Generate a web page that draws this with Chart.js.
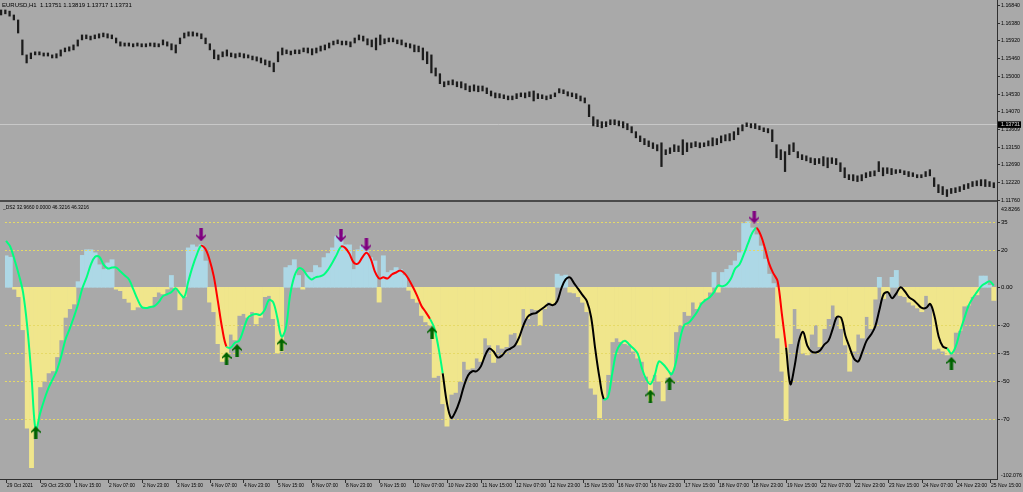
<!DOCTYPE html>
<html>
<head>
<meta charset="utf-8">
<script src="https://cdn.jsdelivr.net/npm/chart.js@4.4.1/dist/chart.umd.min.js"></script>
<style>
  body { margin: 0; background: #a9a9a9; width: 1023px; height: 492px; overflow: hidden; position: relative; }
  canvas { position: absolute; left: 0; }
  #graficoPreco { top: 0; }
  #graficoOsc { top: 200px; }
</style>
</head>
<body>
<canvas id="graficoPreco" width="1023" height="206"></canvas>
<canvas id="graficoOsc" width="1023" height="292"></canvas>
<script>
// cada ponto = 2 barras de H1
var STEP = 2;

var symbolName = 'EURUSD,H1';
var lastOHLC = [1.13751, 1.13819, 1.13717, 1.13731];
var indName = '_DS2';
var indValues = ['32.9660', '0.0000', '46.3216', '46.3216'];

var timeLabels = ['29 Oct 2021', '29 Oct 23:00', '1 Nov 15:00', '2 Nov 07:00', '2 Nov 23:00', '3 Nov 15:00',
  '4 Nov 07:00', '4 Nov 23:00', '5 Nov 15:00', '8 Nov 07:00', '8 Nov 23:00', '9 Nov 15:00', '10 Nov 07:00',
  '10 Nov 23:00', '11 Nov 15:00', '12 Nov 07:00', '12 Nov 23:00', '15 Nov 15:00', '16 Nov 07:00',
  '16 Nov 23:00', '17 Nov 15:00', '18 Nov 07:00', '18 Nov 23:00', '19 Nov 15:00', '22 Nov 07:00',
  '22 Nov 23:00', '23 Nov 15:00', '24 Nov 07:00', '24 Nov 23:00', '25 Nov 15:00'];
var barsPerLabel = 16;

var priceTicks = [1.16840, 1.16380, 1.15920, 1.15460, 1.15000, 1.14530, 1.14070, 1.13609, 1.13150, 1.12690, 1.12220, 1.11760];
var priceMin = 1.1176, priceMax = 1.1697;

var priceHigh = [
  1.1671,1.1671,1.1668,1.1658,1.1645,1.1593,1.1554,1.1559,1.1562,1.1562,
  1.1559,1.1559,1.1554,1.1557,1.1567,1.1572,1.1575,1.1580,1.1593,1.1606,
  1.1606,1.1603,1.1606,1.1609,1.1611,1.1609,1.1606,1.1598,1.1588,1.1585,
  1.1585,1.1583,1.1585,1.1583,1.1583,1.1585,1.1585,1.1583,1.1593,1.1588,
  1.1583,1.1580,1.1598,1.1611,1.1614,1.1614,1.1611,1.1609,1.1598,1.1583,
  1.1567,1.1554,1.1562,1.1567,1.1559,1.1557,1.1559,1.1557,1.1554,1.1551,
  1.1549,1.1546,1.1541,1.1538,1.1533,1.1562,1.1572,1.1567,1.1564,1.1567,
  1.1567,1.1572,1.1572,1.1570,1.1572,1.1577,1.1580,1.1585,1.1590,1.1593,
  1.1590,1.1590,1.1588,1.1598,1.1606,1.1603,1.1596,1.1593,1.1598,1.1606,
  1.1596,1.1598,1.1598,1.1593,1.1593,1.1585,1.1583,1.1580,1.1577,1.1572,
  1.1562,1.1554,1.1520,1.1505,1.1484,1.1486,1.1489,1.1484,1.1484,1.1479,
  1.1473,1.1476,1.1473,1.1473,1.1468,1.1460,1.1455,1.1453,1.1450,1.1447,
  1.1447,1.1453,1.1455,1.1455,1.1458,1.1460,1.1453,1.1450,1.1447,1.1450,
  1.1455,1.1466,1.1463,1.1458,1.1455,1.1453,1.1447,1.1442,1.1424,1.1393,
  1.1385,1.1380,1.1380,1.1385,1.1385,1.1382,1.1380,1.1375,1.1367,1.1354,
  1.1343,1.1336,1.1330,1.1325,1.1320,1.1325,1.1307,1.1312,1.1320,1.1317,
  1.1333,1.1325,1.1325,1.1328,1.1325,1.1325,1.1330,1.1338,1.1336,1.1343,
  1.1346,1.1349,1.1354,1.1364,1.1372,1.1377,1.1375,1.1375,1.1369,1.1364,
  1.1362,1.1359,1.1320,1.1307,1.1302,1.1320,1.1325,1.1302,1.1294,1.1291,
  1.1286,1.1284,1.1284,1.1289,1.1286,1.1286,1.1284,1.1273,1.1260,1.1242,
  1.1242,1.1239,1.1242,1.1247,1.1250,1.1252,1.1276,1.1260,1.1260,1.1258,
  1.1255,1.1255,1.1252,1.1250,1.1247,1.1242,1.1242,1.1250,1.1255,1.1234,
  1.1216,1.1211,1.1203,1.1206,1.1208,1.1211,1.1216,1.1219,1.1224,1.1226,
  1.1229,1.1229,1.1224,1.1221
];
var priceLow = [
  1.1658,1.1661,1.1655,1.1645,1.1611,1.1554,1.1533,1.1544,1.1554,1.1554,
  1.1551,1.1551,1.1546,1.1546,1.1551,1.1562,1.1564,1.1567,1.1577,1.1593,
  1.1596,1.1593,1.1596,1.1598,1.1601,1.1598,1.1596,1.1585,1.1577,1.1577,
  1.1577,1.1575,1.1577,1.1575,1.1575,1.1577,1.1575,1.1575,1.1580,1.1577,
  1.1567,1.1559,1.1583,1.1598,1.1603,1.1603,1.1603,1.1596,1.1583,1.1567,
  1.1544,1.1541,1.1549,1.1551,1.1549,1.1546,1.1549,1.1546,1.1546,1.1541,
  1.1538,1.1533,1.1528,1.1523,1.1510,1.1536,1.1554,1.1557,1.1554,1.1557,
  1.1557,1.1562,1.1559,1.1554,1.1559,1.1564,1.1567,1.1572,1.1580,1.1583,
  1.1580,1.1580,1.1575,1.1585,1.1593,1.1590,1.1580,1.1575,1.1567,1.1580,
  1.1583,1.1588,1.1588,1.1583,1.1580,1.1575,1.1572,1.1562,1.1562,1.1541,
  1.1531,1.1507,1.1499,1.1479,1.1471,1.1476,1.1476,1.1471,1.1468,1.1463,
  1.1458,1.1460,1.1458,1.1460,1.1453,1.1447,1.1442,1.1442,1.1440,1.1437,
  1.1437,1.1440,1.1445,1.1442,1.1445,1.1434,1.1440,1.1440,1.1437,1.1440,
  1.1445,1.1455,1.1453,1.1447,1.1445,1.1440,1.1434,1.1429,1.1393,1.1369,
  1.1367,1.1364,1.1367,1.1372,1.1372,1.1369,1.1364,1.1359,1.1351,1.1338,
  1.1328,1.1320,1.1315,1.1310,1.1304,1.1263,1.1294,1.1297,1.1302,1.1302,
  1.1294,1.1302,1.1312,1.1315,1.1312,1.1315,1.1317,1.1317,1.1320,1.1325,
  1.1330,1.1330,1.1333,1.1346,1.1356,1.1367,1.1364,1.1362,1.1359,1.1354,
  1.1351,1.1328,1.1286,1.1281,1.1250,1.1294,1.1302,1.1286,1.1281,1.1278,
  1.1273,1.1268,1.1271,1.1265,1.1260,1.1271,1.1268,1.1250,1.1234,1.1229,
  1.1226,1.1224,1.1226,1.1234,1.1237,1.1239,1.1250,1.1239,1.1245,1.1242,
  1.1245,1.1247,1.1242,1.1237,1.1237,1.1234,1.1234,1.1237,1.1239,1.1211,
  1.1195,1.1190,1.1185,1.1193,1.1195,1.1198,1.1203,1.1206,1.1211,1.1213,
  1.1213,1.1211,1.1211,1.1208
];

// oscilador
var oscMin = -102.076, oscMax = 43.8266;
var oscLevels = [35, 20, -20, -35, -50, -70];
var oscHist = [
  16.8,16,-1,-5,-22.6,-75,-96,-76,-53,-50,
  -45.6,-44.5,-37,-28,-16,-11.4,-8.9,3,17,20,
  20,18.4,12,9.5,13,14.7,-1,-1.8,-6,-8,
  -12,-10.5,-10.5,-10.5,-10,-5,-2.6,-3.5,-0.9,6.3,
  -0.5,-12,-5,21,22.6,21.5,22.6,14,-7.9,-13,
  -30,-39.5,-38.4,-25,-28,-15,-14,-16,-13,-19.5,
  -16,-5,-4.4,-16.7,-35,-34,10.5,11.6,14.7,6.3,
  -1,7.9,7.9,11.6,10.5,15.8,18,21,27,28,
  22.6,22.6,9.5,20,22,20,15.8,14,-7.9,16.8,
  7.9,8.9,10.5,9.5,6.3,-1.6,-6,-8,-15,-18.4,
  -20,-48,-47,-62,-74,-57,-56,-50,-39.5,-43.7,
  -43,-37.7,-39.5,-27,-30.7,-40,-30.7,-32.5,-31.6,-25,
  -24.2,-30.7,-11.4,-16.7,-11.4,-12,-20,-11.4,-7.9,-8.8,
  7,6,6.5,-2.6,-3,-5,-8,-13,-53.7,-57,
  -69.5,-59,-46.5,-29,-27,-28.9,-30,-30.7,-34,-37.7,
  -39.5,-47.4,-60.5,-46.5,-50,-60.5,-48,-45,-23.7,-20,
  -13,-15,-7.9,-11.4,-7.9,-6,-2.6,7.9,-2.6,7.9,
  9.6,11.6,14,18.4,34,35,31.6,28,22,15,
  7,2,-27,-44.7,-71,-30,-11.4,-22,-35,-36,
  -25,-20,-31.6,-22,-16.7,-9.5,-15.6,-22,-30.7,-44.7,
  -34,-25,-27,-15.6,-22,-6.3,5.3,-6,-2.6,5.3,
  9,-4.4,-5,-7.9,-9.5,-11,-13,-4.4,-9.5,-33,
  -32.5,-34,-36,-35,-24,-23,-10,-9.5,-5,-4,
  6,6,1,-7
];
var oscLine = [
  24.7,21.6,14.7,6.8,-2.6,-21,-47.4,-76.3,-67.4,-60,
  -53.7,-49,-44.2,-36.8,-27.9,-22.1,-15.8,-8.9,-0.5,5.3,
  12.1,16.3,16.3,12.1,10,10.5,10.5,8.4,6.3,4.2,
  -1,-6.3,-10.5,-11,-10.5,-10,-7.9,-4.7,-3.7,-2.6,
  -0.5,-3.2,-5.3,3.2,11,17.4,22.1,20.5,14.7,5.8,
  -7.9,-22.1,-31.6,-32.1,-29.5,-28.4,-22.6,-16.3,-14.7,-14.2,
  -14.7,-12.1,-6.8,-7.9,-16.3,-26.3,-21.6,-4.2,5.8,10,
  9.5,6.3,4.2,5.3,5.8,6.8,9.5,13.2,17.4,21.6,
  21,17.9,13.2,12.6,15.8,18.4,15.3,8.4,4.7,5.3,
  4.7,6.8,7.9,8.9,7.4,4.2,0,-4.7,-10,-13.2,
  -16.8,-21.6,-32.1,-45.8,-61.6,-69.5,-66.3,-60.5,-52.6,-46.8,
  -44.7,-44.7,-42.1,-36.3,-32.6,-34.2,-37.4,-36.3,-33.7,-32.6,
  -31,-26.8,-20.5,-15.8,-14.2,-13.7,-12.1,-10.5,-8.9,-9.5,
  -7.4,-0.5,4.2,5.3,2.1,-1,-4.2,-7.4,-15.8,-33.2,
  -48.4,-59.5,-58.4,-45.8,-34.2,-30,-28.4,-30.5,-32.6,-35.3,
  -43.2,-48.9,-51.6,-46.8,-39.5,-41,-43.7,-46.3,-40,-27.4,
  -20,-18.9,-16.3,-13.2,-8.9,-6.8,-5.3,-2.6,1,0.5,
  1.6,4.7,10,12.1,17.4,23.2,28.9,31.6,27.9,21,
  12.6,7.4,3.2,-14.2,-32.1,-51.6,-42.1,-28.9,-23.7,-31,
  -34.2,-34.7,-33.7,-30.5,-28.4,-22.1,-15.8,-16.3,-25.8,-32.1,
  -37.9,-39.5,-34.2,-28.4,-25.3,-21,-12.1,-3.7,-2.6,-5.8,
  -3.2,0,-2.1,-5.3,-6.8,-8.9,-11,-11,-8.9,-15.3,
  -26.3,-31.6,-32.6,-35.3,-31.6,-23.7,-16.8,-10,-5.8,-2.6,
  0.5,2.1,3.2,1
];
// trechos da linha (em barras): vermelho = queda após sinal de venda, preto = neutro
var redRanges = [[92, 103], [158, 199], [354, 368]];
var blackRanges = [[206, 282], [368, 444]];

// setas (barra, valor)
var upArrowBars = [14, 104, 109, 130, 201, 304, 313, 446];
var upArrowVals = [-77.4, -37.9, -33.7, -30.5, -24.2, -57.9, -51.1, -40.5];
var downArrowBars = [92, 158, 170, 353];
var downArrowVals = [27.9, 27.4, 22.6, 37.4];

var FONTE = '6px "Liberation Sans", Arial, sans-serif';
var AXIS_W = 26;

function corSegmento(bar) {
    for (var i = 0; i < redRanges.length; i++) {
        if (bar >= redRanges[i][0] && bar < redRanges[i][1]) return '#ff0000';
    }
    for (var j = 0; j < blackRanges.length; j++) {
        if (bar >= blackRanges[j][0] && bar < blackRanges[j][1]) return '#000000';
    }
    return '#00ff7f';
}

function desenhaSeta(cor, paraBaixo) {
    var c = document.createElement('canvas');
    c.width = 10; c.height = 13;
    var g = c.getContext('2d');
    if (paraBaixo) { g.translate(0, 13); g.scale(1, -1); }
    g.fillStyle = cor;
    g.beginPath();
    g.moveTo(5, 0); g.lineTo(10, 5.5); g.lineTo(10, 7); g.lineTo(6.7, 4.8);
    g.lineTo(6.7, 13); g.lineTo(3.3, 13); g.lineTo(3.3, 4.8); g.lineTo(0, 7); g.lineTo(0, 5.5);
    g.closePath();
    g.fill();
    return c;
}

var xScaleBase = { type: 'linear', min: -0.5, max: 467.5, offset: false };

// ---------- painel de preço ----------
var decorPreco = {
    id: 'decorPreco',
    beforeDatasetsDraw: function(chart) {
        var ctx = chart.ctx, y = chart.scales.y;
        var py = Math.round(y.getPixelForValue(lastOHLC[3])) + 0.5;
        ctx.save();
        ctx.strokeStyle = '#c8c8c8';
        ctx.lineWidth = 1;
        ctx.beginPath(); ctx.moveTo(0, py); ctx.lineTo(997, py); ctx.stroke();
        ctx.restore();
    },
    afterDraw: function(chart) {
        var ctx = chart.ctx, y = chart.scales.y;
        ctx.save();
        ctx.font = FONTE;
        ctx.textBaseline = 'middle';
        ctx.fillStyle = '#000';
        ctx.fillText(symbolName + '  ' + lastOHLC.map(function(v) { return v.toFixed(5); }).join(' '), 2, 5, 135);
        ctx.fillStyle = '#303030';
        ctx.fillRect(997, 0, 1, 206);
        priceTicks.forEach(function(p) {
            var py = Math.round(y.getPixelForValue(p));
            ctx.fillStyle = '#303030';
            ctx.fillRect(997, py, 3, 1);
            ctx.fillStyle = '#000';
            ctx.fillText(p.toFixed(5), 1001, py, 19);
        });
        // caixa do preço atual
        var cy = y.getPixelForValue(lastOHLC[3]);
        ctx.fillStyle = '#000';
        ctx.fillRect(998, cy - 3, 23, 6.5);
        ctx.fillStyle = '#e0e0e0';
        ctx.fillText(lastOHLC[3].toFixed(5), 1001, cy + 0.3, 19);
        ctx.restore();
    }
};

new Chart(document.getElementById('graficoPreco').getContext('2d'), {
    type: 'bar',
    data: {
        datasets: [{
            data: priceHigh.map(function(h, k) { return { x: k * STEP, y: [priceLow[k], h] }; }),
            backgroundColor: '#1c1c1c',
            barThickness: 1.6,
            borderWidth: 0
        }]
    },
    options: {
        responsive: false,
        animation: false,
        devicePixelRatio: 1,
        events: [],
        layout: { padding: { top: 0, bottom: 6, left: 0, right: 0 } },
        plugins: { legend: { display: false }, tooltip: { enabled: false } },
        scales: {
            x: Object.assign({}, xScaleBase, { display: false }),
            y: {
                position: 'right', min: priceMin, max: priceMax,
                grid: { display: false }, border: { display: false }, ticks: { display: false },
                afterFit: function(s) { s.width = AXIS_W; }
            }
        }
    },
    plugins: [decorPreco]
});

// ---------- painel do oscilador ----------
var decorOsc = {
    id: 'decorOsc',
    afterDatasetDraw: function(chart, args) {
        if (args.index !== 0) return;
        var ctx = chart.ctx, y = chart.scales.y, area = chart.chartArea;
        ctx.save();
        ctx.strokeStyle = '#e6da66';
        ctx.lineWidth = 1;
        ctx.setLineDash([2, 2]);
        oscLevels.forEach(function(v) {
            var py = Math.round(y.getPixelForValue(v)) + 0.5;
            ctx.beginPath(); ctx.moveTo(area.left, py); ctx.lineTo(area.right, py); ctx.stroke();
        });
        ctx.restore();
    },
    afterDraw: function(chart) {
        var ctx = chart.ctx, y = chart.scales.y, x = chart.scales.x, area = chart.chartArea;
        ctx.save();
        ctx.fillStyle = '#4a4a4a';
        ctx.fillRect(0, 0, 997, 2);
        ctx.fillStyle = '#303030';
        ctx.fillRect(997, 0, 1, area.bottom + 1);
        ctx.fillRect(0, area.bottom, 998, 1);
        ctx.font = FONTE;
        ctx.textBaseline = 'middle';
        ctx.fillStyle = '#000';
        ctx.fillText(indName + ' ' + indValues.join(' '), 3, 7, 86);
        // rótulos do eixo direito
        ctx.fillText(oscMax.toFixed(4), 1001, area.top + 4, 19);
        ctx.fillText(oscMin.toFixed(3), 1001, area.bottom - 4, 21);
        oscLevels.concat([0]).forEach(function(v) {
            var py = Math.round(y.getPixelForValue(v));
            ctx.fillStyle = '#303030';
            ctx.fillRect(997, py, 3, 1);
            ctx.fillStyle = '#000';
            ctx.fillText(v === 0 ? '0.00' : String(v), 1001, py);
        });
        // rótulos de tempo
        timeLabels.forEach(function(t, j) {
            var px = Math.round(x.getPixelForValue(j * barsPerLabel));
            ctx.fillStyle = '#303030';
            ctx.fillRect(px, area.bottom + 1, 1, 3);
            ctx.fillStyle = '#000';
            ctx.fillText(t, px + 1, area.bottom + 6.5, t.length > 11 ? 30 : 26);
        });
        ctx.restore();
    }
};

var setaCima = desenhaSeta('#006400', false);
var setaBaixo = desenhaSeta('#800080', true);

new Chart(document.getElementById('graficoOsc').getContext('2d'), {
    type: 'bar',
    data: {
        datasets: [{
            type: 'bar',
            data: oscHist.map(function(v, k) { return { x: k * STEP, y: v }; }),
            backgroundColor: function(c) { return c.raw && c.raw.y >= 0 ? '#add8e6' : '#f0e68c'; },
            barPercentage: 1,
            categoryPercentage: 1,
            borderWidth: 0,
            order: 3
        }, {
            type: 'line',
            data: oscLine.map(function(v, k) { return { x: k * STEP, y: v }; }),
            borderColor: '#00ff7f',
            borderWidth: 2,
            pointRadius: 0,
            tension: 0.35,
            segment: { borderColor: function(c) { return corSegmento(c.p0.parsed.x); } },
            order: 1
        }, {
            type: 'scatter',
            data: upArrowBars.map(function(b, i) { return { x: b, y: upArrowVals[i] }; }),
            pointStyle: setaCima,
            order: 0
        }, {
            type: 'scatter',
            data: downArrowBars.map(function(b, i) { return { x: b, y: downArrowVals[i] }; }),
            pointStyle: setaBaixo,
            order: 0
        }]
    },
    options: {
        responsive: false,
        animation: false,
        devicePixelRatio: 1,
        events: [],
        layout: { padding: { top: 2, bottom: 0, left: 0, right: 0 } },
        plugins: { legend: { display: false }, tooltip: { enabled: false } },
        scales: {
            x: Object.assign({}, xScaleBase, {
                grid: { display: false }, border: { display: false }, ticks: { display: false },
                afterFit: function(s) { s.height = 13; }
            }),
            y: {
                position: 'right', min: oscMin, max: oscMax,
                grid: { display: false }, border: { display: false }, ticks: { display: false },
                afterFit: function(s) { s.width = AXIS_W; }
            }
        }
    },
    plugins: [decorOsc]
});
</script>
</body>
</html>
